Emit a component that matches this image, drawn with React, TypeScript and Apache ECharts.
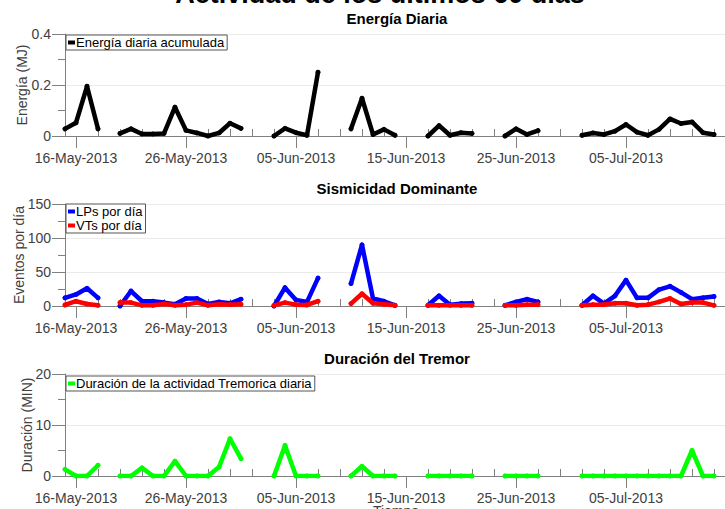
import React, { useEffect, useRef } from 'react';
import * as echarts from 'echarts';

// Day 0 = 15-May-2013, one value per day (null = no data)
const START_YEAR = 2013;
const START_MONTH = 4; // May (0-based)
const START_DAY = 15;
const MONTHS = ['Jan', 'Feb', 'Mar', 'Apr', 'May', 'Jun', 'Jul', 'Aug', 'Sep', 'Oct', 'Nov', 'Dec'];

const energia = [
  0.028, 0.052, 0.195, 0.028, null, 0.01, 0.028, 0.008, 0.008, 0.01,
  0.113, 0.022, 0.012, 0.0, 0.012, 0.05, 0.03, null, null, 0.0,
  0.03, 0.013, 0.003, 0.25, null, null, 0.028, 0.148, 0.006, 0.026,
  0.003, null, null, 0.0, 0.041, 0.003, 0.013, 0.01, null, null,
  0.0, 0.028, 0.006, 0.021, null, null, null, 0.003, 0.012, 0.006,
  0.019, 0.045, 0.015, 0.003, 0.026, 0.067, 0.049, 0.055, 0.013, 0.006,
];

const lps = [
  12, 17, 26, 12, null, 0, 22, 7, 7, 5,
  2.5, 11, 11, 3, 6, 4, 10, null, null, 0,
  27, 9, 6, 41, null, null, 33, 90, 11, 7,
  1, null, null, 1, 15, 2, 3.5, 4, null, null,
  1, 6, 10, 6, null, null, null, 1, 15, 3.5,
  15, 38, 12, 12, 24, 29, 20, 10, 12, 14,
];

const vts = [
  1.5, 7, 3, 1, null, 5, 5, 1, 1, 3,
  1, 2, 5, 1, 2.5, 2, 2.5, null, null, 1,
  5, 2, 1.5, 7, null, null, 3.5, 18, 4, 2.5,
  1, null, null, 1, 1, 1, 1, 1, null, null,
  1, 1, 2, 2, null, null, null, 1, 2, 2,
  4, 4, 1, 2, 6, 11, 3, 5, 5, 1,
];

const tremor = [
  1.3, 0, 0, 2.1, null, 0, 0, 1.6, 0, 0,
  2.9, 0, 0, 0, 1.75, 7.3, 3.4, null, null, 0,
  6, 0, 0, 0, null, null, 0, 1.9, 0, 0,
  0, null, null, 0, 0, 0, 0, 0, null, null,
  0, 0, 0, 0, null, null, null, 0, 0, 0,
  0, 0, 0, 0, 0, 0, 0, 5, 0, 0,
];

const majorTickDays = [1, 11, 21, 31, 41, 51];
const minorTickDays = [3, 5, 7, 9, 13, 15, 17, 19, 23, 25, 27, 29, 33, 35, 37, 39, 43, 45, 47, 49, 53, 55, 57, 59];

const FONT = '"Liberation Sans", Arial, Helvetica, sans-serif';

function fmtDay(i: number): string {
  const d = new Date(Date.UTC(START_YEAR, START_MONTH, START_DAY + i));
  const dd = String(d.getUTCDate()).padStart(2, '0');
  return `${dd}-${MONTHS[d.getUTCMonth()]}-${d.getUTCFullYear()}`;
}

const toPairs = (arr: (number | null)[]) => arr.map((v, i) => [i, v === null ? '-' : v]);

export default function App() {
  const ref = useRef<HTMLDivElement>(null);

  useEffect(() => {
    if (!ref.current) return;
    document.body.style.margin = '0';
    const chart = echarts.init(ref.current, null, { renderer: 'svg' });

    const tops = [34, 204, 374];
    const axisGrey = '#808080';
    const labelGrey = '#404040';

    const grids = tops.map((t) => ({ left: 65, right: -5, top: t, height: 102 }));

    const xAxes: any[] = [];
    tops.forEach((_, k) => {
      xAxes.push({
        type: 'value', gridIndex: k, min: 0, max: 60,
        axisLine: { show: true, onZero: false, lineStyle: { color: axisGrey, width: 1 } },
        axisTick: { show: true, customValues: majorTickDays, length: 12, inside: false, lineStyle: { color: axisGrey } },
        axisLabel: {
          show: true, customValues: majorTickDays, formatter: (v: number) => fmtDay(Math.round(v)),
          fontSize: 14, color: labelGrey, margin: 15, fontFamily: FONT,
        },
        splitLine: { show: false },
      });
      xAxes.push({
        type: 'value', gridIndex: k, min: 0, max: 60,
        axisLine: { show: false },
        axisTick: { show: true, customValues: minorTickDays, length: 7, inside: false, lineStyle: { color: axisGrey } },
        axisLabel: { show: false },
        splitLine: { show: false },
      });
    });

    const yDefs = [
      { max: 0.4, interval: 0.2 },
      { max: 150, interval: 50 },
      { max: 20, interval: 10 },
    ];
    const yAxes = yDefs.map((d, k) => ({
      type: 'value', gridIndex: k, min: 0, max: d.max, interval: d.interval,
      axisLine: { show: true, lineStyle: { color: axisGrey, width: 1 } },
      axisTick: { show: true, length: 13, inside: false, lineStyle: { color: axisGrey } },
      minorTick: { show: true, splitNumber: 2, length: 7, lineStyle: { color: axisGrey } },
      splitLine: { show: true, lineStyle: { color: '#ebebeb', width: 1 } },
      axisLabel: { fontSize: 14, color: labelGrey, margin: 14, fontFamily: FONT },
    }));

    const lineSeries = (name: string, data: (number | null)[], color: string, k: number, z: number) => ({
      name, type: 'line', xAxisIndex: 2 * k, yAxisIndex: k,
      data: toPairs(data), connectNulls: false,
      symbol: 'circle', symbolSize: 5, showSymbol: true,
      itemStyle: { color },
      lineStyle: { color, width: 4.5, cap: 'round', join: 'round' },
      emphasis: { disabled: true },
      z,
    });

    const legendBase = {
      orient: 'vertical', icon: 'rect', itemWidth: 7, itemHeight: 4, itemGap: 1,
      padding: [1, 3, 1, 2], borderColor: '#555', borderWidth: 1, backgroundColor: '#fff',
      textStyle: { fontSize: 13, color: '#000', fontFamily: FONT, padding: [0, 0, 0, -4] },
      selectedMode: false,
    };

    const titleText = (text: string, x: number, y: number, size: number) => ({
      type: 'text', x, y,
      style: { text, fontSize: size, fontWeight: 'bold', fill: '#000', fontFamily: FONT, textAlign: 'center', textVerticalAlign: 'middle' },
    });

    const yName = (text: string, x: number, y: number) => ({
      type: 'text', x, y, rotation: Math.PI / 2,
      style: { text, fontSize: 14, fill: labelGrey, fontFamily: FONT, textAlign: 'center', textVerticalAlign: 'middle' },
    });

    chart.setOption({
      animation: false,
      grid: grids,
      xAxis: xAxes,
      yAxis: yAxes,
      legend: [
        { ...legendBase, left: 66, top: 35, data: ['Energía diaria acumulada'] },
        { ...legendBase, left: 66, top: 204, data: ['LPs por día', 'VTs por día'] },
        { ...legendBase, left: 66, top: 376, data: ['Duración de la actividad Tremorica diaria'] },
      ],
      series: [
        lineSeries('Energía diaria acumulada', energia, '#000000', 0, 2),
        lineSeries('LPs por día', lps, '#0000ff', 1, 2),
        lineSeries('VTs por día', vts, '#ff0000', 1, 3),
        lineSeries('Duración de la actividad Tremorica diaria', tremor, '#00ff00', 2, 2),
      ],
      graphic: [
        titleText('Actividad de los últimos 60 días', 380, -6, 27),
        titleText('Energía Diaria', 397, 18, 15),
        titleText('Sismicidad Dominante', 397, 188, 15),
        titleText('Duración del Tremor', 397, 358, 15),
        yName('Energía (MJ)', 22, 85),
        yName('Eventos por día', 19, 255),
        yName('Duración (MIN)', 27, 425),
        {
          type: 'text', x: 396, y: 504,
          style: { text: 'Tiempo', fontSize: 14, fill: labelGrey, fontFamily: FONT, textAlign: 'center', textVerticalAlign: 'top' },
        },
      ],
    });

    return () => chart.dispose();
  }, []);

  return <div ref={ref} style={{ position: 'absolute', left: 0, top: 0, width: 725, height: 509 }} />;
}
